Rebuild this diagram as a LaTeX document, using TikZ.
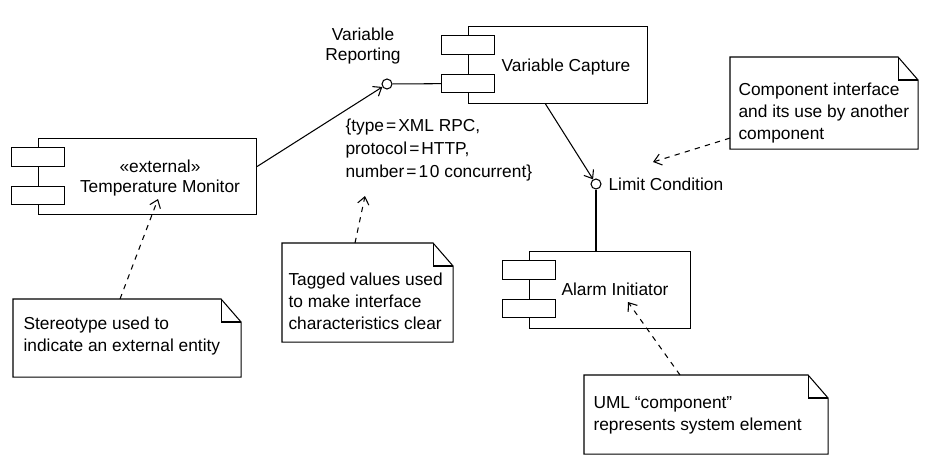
\documentclass[tikz,border=0pt]{standalone}
\usepackage{fontspec}
\setmainfont{Liberation Sans}
\usepackage{tikz}
\usetikzlibrary{positioning,arrows.meta,calc}
\tikzset{
    component/.style={rectangle, draw, fill=white, inner sep=0pt, anchor=north west},
    port/.style={rectangle, draw, fill=white, inner sep=0pt, minimum width=1.59cm, minimum height=0.56cm},
    iface/.style={circle, draw, fill=white, inner sep=0pt, minimum size=0.3cm},
    note box/.style={rectangle, inner sep=0pt, anchor=north west},
    comp label/.style={inner sep=0pt, align=center, font=\fontsize{14.8}{17.1}\selectfont},
    note text/.style={inner sep=0pt, align=left, anchor=north west, font=\fontsize{14.8}{18.8}\selectfont},
    tag text/.style={note text, font=\fontsize{14.8}{19.6}\selectfont},
    usage/.style={-{Straight Barb[length=0.22cm, width=0.34cm]}},
    hint arrow/.style={usage, dash pattern=on 4.5pt off 4.5pt}
}
\newcommand{\tageq}{\kern0.12em=\kern0.12em}

\begin{document}
\begin{tikzpicture}[x=0.03cm, y=-0.03cm, line width=0.9pt]
    \useasboundingbox (0,0) rectangle (928,466);

    % Components - main boxes
    \node[component, minimum width=6.54cm, minimum height=2.28cm] (TM) at (38,138) {};
    \node[component, minimum width=5.37cm, minimum height=2.31cm] (VC) at (468,26) {};
    \node[component, minimum width=4.83cm, minimum height=2.31cm] (AI) at (529,251) {};

    % Component ports - on the left edge
    \foreach \c/\x/\y in {TM/38/138, VC/468/26, AI/529/251} {
        \node[port] (\c-1) at (\x,{\y+19}) {};
        \node[port] (\c-2) at (\x,{\y+57.5}) {};
    }

    % Component names
    \node[comp label] (TM-text) at (160,178) {«external»\\Temperature Monitor};
    \node[comp label, anchor=base] (VC-text) at (566,71) {Variable Capture};
    \node[comp label, anchor=base] (AI-text) at (615,295) {Alarm Initiator};

    % Interfaces
    \node[iface] (report) at (387,84) {};
    \node[iface] (limit) at (596,184) {};
    \node[comp label] (report-text) at (363,46) {Variable\\Reporting};
    \node[comp label, anchor=base west] (limit-text) at (608,190) {Limit Condition};

    % Tagged values
    \node[tag text] (tags) at (345,118) {\{type\tageq XML RPC,\\protocol\tageq HTTP,\\number\tageq 1\kern0.1em0 concurrent\}};

    % Interface connections
    \draw (report) -- (VC-2);
    \draw[usage] ([yshift=0.3cm]TM.east) -- (report);
    \draw[usage] ([xshift=-0.375cm]VC.south) -- (limit);
    \draw (limit) -- (limit |- AI.north);

    % Notes
    \node[note box, minimum width=5.61cm, minimum height=2.73cm] (ciNote) at (730,57) {};
    \node[note box, minimum width=5.1cm, minimum height=2.94cm] (tagNote) at (282,243) {};
    \node[note box, minimum width=6.81cm, minimum height=2.31cm] (stNote) at (13,299) {};
    \node[note box, minimum width=7.29cm, minimum height=2.34cm] (umlNote) at (584,375) {};

    \foreach \n in {ciNote, tagNote, stNote, umlNote} {
        \draw (\n.south west) -- (\n.north west) -- ($(\n.north east)+(-20,0)$)
            -- ($(\n.north east)+(0,23)$) -- (\n.south east) -- cycle;
        \draw ($(\n.north east)+(-20,0)$) |- ($(\n.north east)+(0,23)$);
    }

    \node[note text] (ciNote-text) at (738,82) {Component interface\\and its use by another\\component};
    \node[note text] (tagNote-text) at (288,272) {Tagged values used\\to make interface\\characteristics clear};
    \node[note text] (stNote-text) at (23,316) {Stereotype used to\\indicate an external entity};
    \node[note text] (umlNote-text) at (593,396) {UML “component”\\represents system element};

    % Note pointers
    \coordinate (TM-hint) at (158,199);
    \coordinate (tags-hint) at (365,196);
    \coordinate (limit-hint) at (653,162);
    \coordinate (AI-hint) at (628,302);
    \draw[hint arrow] ($(stNote.north west)+(107,0)$) -- (TM-hint);
    \draw[hint arrow] ($(tagNote.north west)+(73,0)$) -- (tags-hint);
    \draw[hint arrow] ($(ciNote.south west)+(0,-11)$) -- (limit-hint);
    \draw[hint arrow] ($(umlNote.north west)+(96,0)$) -- (AI-hint);
\end{tikzpicture}
\end{document}
